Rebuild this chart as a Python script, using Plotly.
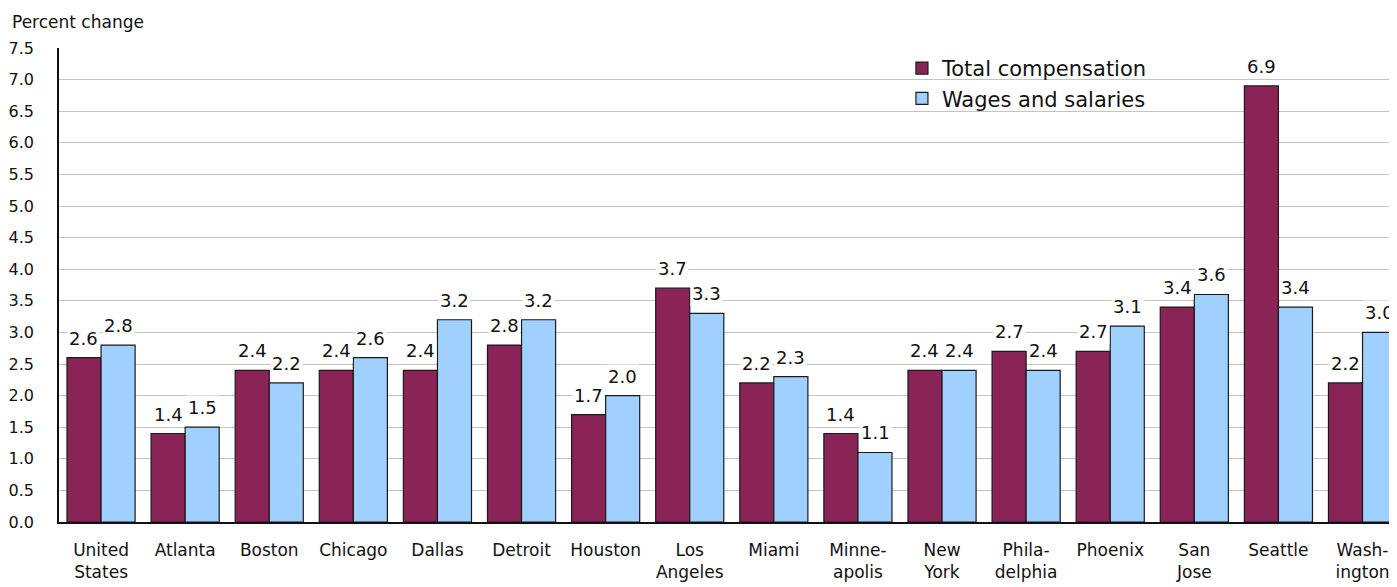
import plotly.graph_objects as go

categories = ["United<br>States", "Atlanta", "Boston", "Chicago", "Dallas", "Detroit", "Houston",
              "Los<br>Angeles", "Miami", "Minne-<br>apolis", "New<br>York", "Phila-<br>delphia",
              "Phoenix", "San<br>Jose", "Seattle", "Wash-<br>ington"]
total_comp = [2.6, 1.4, 2.4, 2.4, 2.4, 2.8, 1.7, 3.7, 2.2, 1.4, 2.4, 2.7, 2.7, 3.4, 6.9, 2.2]
wages = [2.8, 1.5, 2.2, 2.6, 3.2, 3.2, 2.0, 3.3, 2.3, 1.1, 2.4, 2.4, 3.1, 3.6, 3.4, 3.0]
y_ticks = [i * 0.5 for i in range(16)]

MAROON = "#8a2356"
BLUE = "#a0d0ff"
FONT = "DejaVu Sans, Liberation Sans, Arial, sans-serif"

x_idx = list(range(len(categories)))

fig = go.Figure()
fig.add_trace(go.Bar(x=x_idx, y=total_comp, name="Total compensation",
                     marker=dict(color=MAROON, line=dict(color="#1a1a1a", width=1.2))))
fig.add_trace(go.Bar(x=x_idx, y=wages, name="Wages and salaries",
                     marker=dict(color=BLUE, line=dict(color="#1a1a1a", width=1.2))))

annotations = []
bar_off = 0.203
for i, (a, b) in enumerate(zip(total_comp, wages)):
    for xv, v in ((i - bar_off, a), (i + bar_off, b)):
        annotations.append(dict(x=xv, y=v, text=f"{v:.1f}", showarrow=False,
                                xref="x", yref="y", yanchor="bottom", yshift=7,
                                bgcolor="white", borderpad=1,
                                font=dict(size=18, color="#111", family=FONT)))

annotations.append(dict(x=-0.0366, y=1.055, xref="paper", yref="paper", xanchor="left",
                        yanchor="middle", text="Percent change", showarrow=False,
                        font=dict(size=17, color="#111", family=FONT)))

fig.update_layout(
    width=1389, height=579,
    margin=dict(l=51, r=0, t=40, b=65),
    paper_bgcolor="white", plot_bgcolor="white",
    barmode="group", bargap=0.19, bargroupgap=0,
    font=dict(family=FONT, color="#111"),
    showlegend=True,
    legend=dict(x=0.6300, y=1.0, xanchor="left", yanchor="top",
                bgcolor="rgba(0,0,0,0)", font=dict(size=21, family=FONT),
                tracegroupgap=0, itemwidth=30),
    annotations=annotations,
)
fig.update_xaxes(tickvals=x_idx, ticktext=categories, range=[-0.5, 15.41],
                 showline=True, linecolor="#111", linewidth=1.5, ticks="",
                 ticklabelstandoff=12,
                 tickfont=dict(size=17, family=FONT), showgrid=False, zeroline=False)
fig.update_yaxes(range=[0, 7.5], tickvals=y_ticks, ticktext=[f"{t:.1f}" for t in y_ticks],
                 showline=True, linecolor="#111", linewidth=1.5, ticks="",
                 ticklabelstandoff=20,
                 gridcolor="#c2c6c2", gridwidth=1.2, zeroline=False,
                 tickfont=dict(size=16, family=FONT))

fig.write_html("out.html")
